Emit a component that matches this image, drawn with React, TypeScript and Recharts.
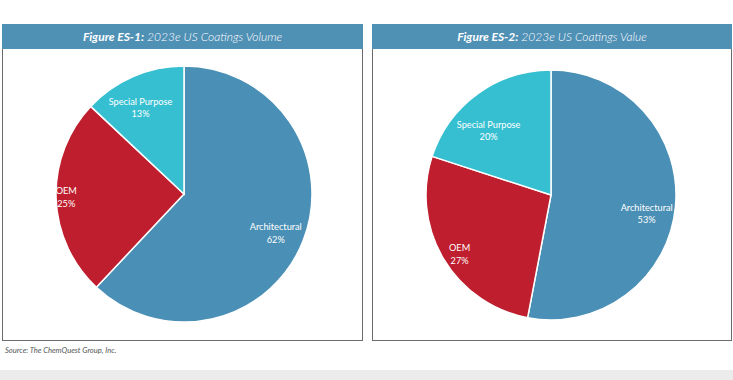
import React from "react";
import { PieChart, Pie, Cell } from "recharts";

const categories = ["Architectural", "OEM", "Special Purpose"];
const volumeShares = [62, 25, 13];
const valueShares = [53, 27, 20];
const chartTitles = [
  { bold: "Figure ES-1:", rest: " 2023e US Coatings Volume" },
  { bold: "Figure ES-2:", rest: " 2023e US Coatings Value" },
];
const sourceNote = "Source: The ChemQuest Group, Inc.";

const COLORS = ["#4a8fb5", "#be1e2d", "#36bfd1"];
const HEADER = "#4f90b5";
const FONT = "Lato, 'Open Sans', sans-serif";

// label placement (radius fraction, angle nudge in degrees) per slice, per chart
const LABEL_POS_VOLUME: [number, number][] = [[0.78, 1.6], [0.92, 0.3], [0.756, -3.3]];
const LABEL_POS_VALUE: [number, number][] = [[0.78, 5.8], [0.872, -2.4], [0.716, -8.2]];

const volumeData = categories.map((name, i) => ({ name, value: volumeShares[i] }));
const valueData = categories.map((name, i) => ({ name, value: valueShares[i] }));

const RAD = Math.PI / 180;
const makeLabel = (pos: [number, number][]) => (props: any) => {
  const { cx, cy, midAngle, outerRadius, name, value, index } = props;
  const [f, nudge] = pos[index] ?? [0.78, 0];
  const r = outerRadius * f;
  const screen = -midAngle + nudge;
  const x = cx + r * Math.cos(screen * RAD);
  const y = cy + r * Math.sin(screen * RAD);
  return (
    <text x={x} y={y} fill="#ffffff" fontSize={9.2} fontFamily={FONT} textAnchor="middle">
      <tspan x={x} dy={-3}>{name}</tspan>
      <tspan x={x} dy={12.5}>{value}%</tspan>
    </text>
  );
};

const panels = [
  { left: 2, width: 361 },
  { left: 372, width: 360 },
];

export default function App() {
  return (
    <div style={{ position: "absolute", left: 0, top: 0, width: 733, height: 380, background: "#ffffff", overflow: "hidden", fontFamily: FONT }}>
      {panels.map((p, i) => (
        <div key={i} style={{ position: "absolute", left: p.left, top: 24, width: p.width - 2, height: 316, border: "1px solid #6b6b6b", borderTop: "none" }}>
          <div style={{ position: "absolute", left: -1, top: 0, width: p.width, height: 25, background: HEADER, color: "#fff", fontSize: 12, fontStyle: "italic", textAlign: "center", lineHeight: "25px", whiteSpace: "nowrap" }}>
            <span style={{ fontWeight: 700 }}>{chartTitles[i].bold}</span>
            <span style={{ fontWeight: 300 }}>{chartTitles[i].rest}</span>
          </div>
        </div>
      ))}
      <div style={{ position: "absolute", left: 5, top: 345, fontSize: 7.6, fontStyle: "italic", color: "#555" }}>{sourceNote}</div>
      <div style={{ position: "absolute", left: 0, top: 370, width: 733, height: 10, background: "#ececec" }} />
      <div style={{ position: "absolute", left: 0, top: 0 }}>
        <PieChart width={733} height={380} margin={{ top: 0, right: 0, bottom: 0, left: 0 }}>
          <Pie
            data={volumeData}
            dataKey="value"
            nameKey="name"
            cx={184}
            cy={194}
            outerRadius={128}
            startAngle={90}
            endAngle={-270}
            stroke="#ffffff"
            strokeWidth={1.5}
            label={makeLabel(LABEL_POS_VOLUME)}
            labelLine={false}
            isAnimationActive={false}
          >
            {volumeData.map((d, i) => (
              <Cell key={d.name} fill={COLORS[i]} />
            ))}
          </Pie>
          <Pie
            data={valueData}
            dataKey="value"
            nameKey="name"
            cx={551}
            cy={195}
            outerRadius={125}
            startAngle={90}
            endAngle={-270}
            stroke="#ffffff"
            strokeWidth={1.5}
            label={makeLabel(LABEL_POS_VALUE)}
            labelLine={false}
            isAnimationActive={false}
          >
            {valueData.map((d, i) => (
              <Cell key={d.name} fill={COLORS[i]} />
            ))}
          </Pie>
        </PieChart>
      </div>
    </div>
  );
}
